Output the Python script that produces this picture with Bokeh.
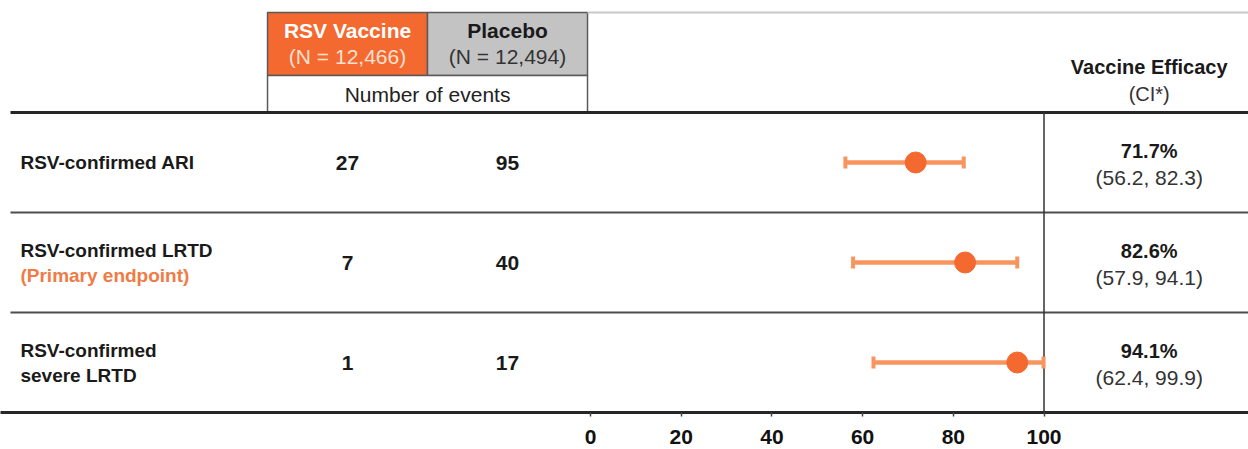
from bokeh.plotting import figure
from bokeh.models import Range1d, FixedTicker
from bokeh.core.properties import value
from bokeh.embed import file_html
from bokeh.resources import INLINE

# ---------------- data ----------------
outcome_lines = [["RSV-confirmed ARI"],
                 ["RSV-confirmed LRTD", "(Primary endpoint)"],
                 ["RSV-confirmed", "severe LRTD"]]
arms = ["RSV Vaccine", "Placebo"]
arm_n = [12466, 12494]
vaccine_events = [27, 7, 1]
placebo_events = [95, 40, 17]
ve = [71.7, 82.6, 94.1]
ci_low = [56.2, 57.9, 62.4]
ci_high = [82.3, 94.1, 99.9]
ticks = [0, 20, 40, 60, 80, 100]

# ---------------- styling ----------------
FONT = "Liberation Sans"
ORANGE = "#F4692F"
ORANGE_LIGHT = "#F8945E"
ORANGE_TEXT = "#F07B45"
GREY_BOX = "#C3C3C3"
DARK = "#1a1a1a"

W, H = 1248, 449
BB = 37  # bottom border for axis
p = figure(width=W, height=H, output_backend="svg", toolbar_location=None,
           x_range=Range1d(-130.10, 145.09), y_range=Range1d(2.50, -1.62),
           min_border_left=0, min_border_right=0, min_border_top=0,
           min_border_bottom=BB, y_axis_location=None)
p.outline_line_color = None
p.xgrid.visible = False
p.ygrid.visible = False
p.background_fill_color = "white"
p.border_fill_color = "white"

# layout positions (data units of the layout)
X_LEFT = -127.9
X_RIGHT = 145.09
X_LABEL = -125.7
col_x = [-53.58, -18.30]
box_edges = [-71.22, -35.94, -0.66]
X_VE = 123.2
rows = list(range(len(ve)))

# ---------------- header boxes ----------------
p.quad(left=box_edges[:2], right=box_edges[1:], top=[-1.50, -1.50],
       bottom=[-0.87, -0.87], fill_color=[ORANGE, GREY_BOX],
       line_color="#5a5a5a", line_width=1.5)
p.quad(left=[box_edges[0]], right=[box_edges[2]], top=[-0.87], bottom=[-0.5],
       fill_color="white", line_color="#5a5a5a", line_width=1.5)
p.segment(x0=[box_edges[2]], y0=[-1.50], x1=[X_RIGHT], y1=[-1.50],
          line_color="#c8c8c8", line_width=2)

p.text(x=col_x, y=[-1.32, -1.32], text=arms, text_color=["white", DARK],
       text_font=value(FONT), text_font_style="bold", text_font_size="21px",
       text_align="center", text_baseline="middle")
p.text(x=col_x, y=[-1.06, -1.06], text=["(N = {:,})".format(n) for n in arm_n],
       text_color=["#FCE0D2", "#333333"], text_font=value(FONT),
       text_font_size="21px", text_align="center", text_baseline="middle")
p.text(x=[(box_edges[0] + box_edges[2]) / 2], y=[-0.68], text=["Number of events"],
       text_color="#222222", text_font=value(FONT), text_font_size="21px",
       text_align="center", text_baseline="middle")
p.text(x=[X_VE], y=[-0.96], text=["Vaccine Efficacy"], text_color=DARK,
       text_font=value(FONT), text_font_style="bold", text_font_size="20px",
       text_align="center", text_baseline="middle")
p.text(x=[X_VE], y=[-0.69], text=["(CI*)"], text_color="#333333",
       text_font=value(FONT), text_font_size="20px",
       text_align="center", text_baseline="middle")

# ---------------- table lines ----------------
p.segment(x0=[X_LEFT], y0=[-0.5], x1=[X_RIGHT], y1=[-0.5],
          line_color="#262626", line_width=3)
p.segment(x0=[X_LEFT] * 2, y0=[0.5, 1.5], x1=[X_RIGHT] * 2, y1=[0.5, 1.5],
          line_color="#4d4d4d", line_width=1.8)
p.segment(x0=[100], y0=[-0.5], x1=[100], y1=[2.5],
          line_color="#333333", line_width=1.5)

# ---------------- row labels ----------------
lab_x, lab_y, lab_t, lab_c = [], [], [], []
for i, lines in enumerate(outcome_lines):
    if len(lines) == 1:
        offs = [0.0]
    else:
        offs = [-0.12, 0.13]
    for off, t in zip(offs, lines):
        lab_x.append(X_LABEL)
        lab_y.append(i + off)
        lab_t.append(t)
        lab_c.append(ORANGE_TEXT if t.startswith("(") else DARK)
p.text(x=lab_x, y=lab_y, text=lab_t, text_color=lab_c, text_font=value(FONT),
       text_font_style="bold", text_font_size="19px", text_align="left",
       text_baseline="middle")

# ---------------- counts ----------------
p.text(x=[col_x[0]] * len(rows), y=rows, text=[str(v) for v in vaccine_events],
       text_color=DARK, text_font=value(FONT), text_font_style="bold",
       text_font_size="21px", text_align="center", text_baseline="middle")
p.text(x=[col_x[1]] * len(rows), y=rows, text=[str(v) for v in placebo_events],
       text_color=DARK, text_font=value(FONT), text_font_style="bold",
       text_font_size="21px", text_align="center", text_baseline="middle")

# ---------------- forest plot ----------------
p.segment(x0=ci_low, y0=rows, x1=ci_high, y1=rows,
          line_color=ORANGE_LIGHT, line_width=4.5)
cap = 0.06
p.segment(x0=ci_low, y0=[r - cap for r in rows], x1=ci_low, y1=[r + cap for r in rows],
          line_color=ORANGE_LIGHT, line_width=4)
p.segment(x0=ci_high, y0=[r - cap for r in rows], x1=ci_high, y1=[r + cap for r in rows],
          line_color=ORANGE_LIGHT, line_width=4)
p.scatter(x=ve, y=rows, size=21, fill_color=ORANGE, line_color=ORANGE)

# ---------------- VE text ----------------
p.text(x=[X_VE] * len(rows), y=[r - 0.12 for r in rows],
       text=["{:.1f}%".format(v) for v in ve], text_color=DARK,
       text_font=value(FONT), text_font_style="bold", text_font_size="20px",
       text_align="center", text_baseline="middle")
p.text(x=[X_VE] * len(rows), y=[r + 0.145 for r in rows],
       text=["({:.1f}, {:.1f})".format(a, b) for a, b in zip(ci_low, ci_high)],
       text_color="#333333", text_font=value(FONT), text_font_size="21px",
       text_align="center", text_baseline="middle")

# ---------------- axis ----------------
ax = p.xaxis[0]
ax.ticker = FixedTicker(ticks=ticks)
ax.axis_line_color = "#262626"
ax.axis_line_width = 3
ax.major_tick_line_color = "#444444"
ax.major_tick_line_width = 1.5
ax.major_tick_in = 0
ax.major_tick_out = 4
ax.minor_tick_line_color = None
ax.major_label_standoff = 13
ax.major_label_text_font = FONT
ax.major_label_text_font_style = "bold"
ax.major_label_text_font_size = "21px"
ax.major_label_text_color = "#111111"

open("out.html", "w").write(file_html(p, INLINE))
